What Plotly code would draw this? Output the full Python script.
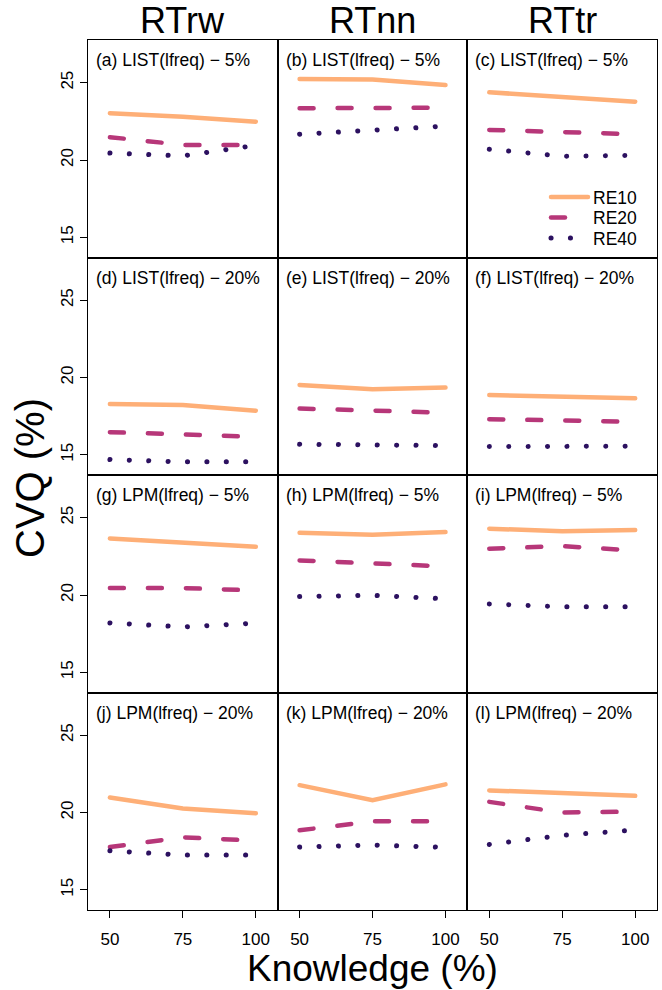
import plotly.graph_objects as go
from plotly.subplots import make_subplots

knowledge = [50, 75, 100]
col_titles = ["RTrw", "RTnn", "RTtr"]
panel_labels = [
    "(a) LIST(lfreq) − 5%", "(b) LIST(lfreq) − 5%", "(c) LIST(lfreq) − 5%",
    "(d) LIST(lfreq) − 20%", "(e) LIST(lfreq) − 20%", "(f) LIST(lfreq) − 20%",
    "(g) LPM(lfreq) − 5%", "(h) LPM(lfreq) − 5%", "(i) LPM(lfreq) − 5%",
    "(j) LPM(lfreq) − 20%", "(k) LPM(lfreq) − 20%", "(l) LPM(lfreq) − 20%",
]
series_names = ["RE10", "RE20", "RE40"]

re10 = [
    [23.03, 22.80, 22.48], [25.24, 25.20, 24.85], [24.38, 24.08, 23.77],
    [18.29, 18.22, 17.86], [19.52, 19.24, 19.35], [18.87, 18.77, 18.66],
    [23.66, 23.40, 23.12], [24.03, 23.90, 24.07], [24.29, 24.12, 24.20],
    [20.97, 20.26, 19.95], [21.77, 20.80, 21.82], [21.43, 21.27, 21.08],
]
re20 = [
    [21.48, 20.98, 20.98], [23.35, 23.35, 23.38], [21.95, 21.80, 21.67],
    [16.47, 16.30, 16.17], [18.00, 17.83, 17.73], [17.31, 17.20, 17.14],
    [20.45, 20.45, 20.30], [22.24, 22.02, 21.85], [23.00, 23.16, 22.88],
    [17.77, 18.40, 18.18], [18.85, 19.43, 19.43], [20.69, 20.00, 20.06],
]
re40 = [
    [20.45, 20.27, 20.95], [21.67, 21.93, 22.19], [20.70, 20.25, 20.30],
    [14.70, 14.55, 14.55], [15.69, 15.62, 15.60], [15.54, 15.54, 15.56],
    [18.20, 17.94, 18.18], [19.90, 19.98, 19.76], [19.42, 19.24, 19.24],
    [17.53, 17.25, 17.25], [17.77, 17.90, 17.75], [17.94, 18.53, 18.87],
]
x_ticks = [50, 75, 100]
y_ticks = [15, 20, 25]

colors = ["#FEAF77", "#B73779", "#2C1160"]
dashes = ["solid", "14px,24px", "0.1px,19.3px"]
widths = [4.5, 4.5, 5]
legend_ids = ["legend", "legend2", "legend3"]
legend_y_px = [197, 217.5, 238]

W, H = 662, 990
left_px, col_w = 88.0, 189.7
top_px, row_h = 40.0, 217.5

fig = make_subplots(rows=4, cols=3, horizontal_spacing=0, vertical_spacing=0)
FONT = "Liberation Sans, Arial, sans-serif"
FS = 17.5

for i in range(12):
    r, c = i // 3 + 1, i % 3 + 1
    data = [re10[i], re20[i], re40[i]]
    for k in range(3):
        fig.add_trace(go.Scatter(
            x=knowledge, y=data[k], mode="lines", name=series_names[k],
            line=dict(color=colors[k], width=widths[k], dash=dashes[k]),
            showlegend=(i == 2), legendgroup=series_names[k], legend=legend_ids[k],
        ), row=r, col=c)
    x0 = (left_px + (c - 1) * col_w) / W
    x1 = (left_px + c * col_w) / W
    y1 = 1 - (top_px + (r - 1) * row_h) / H
    y0 = 1 - (top_px + r * row_h) / H
    fig.update_xaxes(
        domain=[x0, x1], range=[42.5, 107.5], tickvals=x_ticks,
        showticklabels=(r == 4), ticks=("outside" if r == 4 else ""),
        ticklen=7, tickcolor="#000", showline=True, linecolor="#000",
        linewidth=1, mirror=True, showgrid=False, zeroline=False,
        tickfont=dict(family=FONT, size=17, color="#000"),
        ticklabelstandoff=7, row=r, col=c)
    fig.update_yaxes(
        domain=[y0, y1], range=[13.7, 27.76], tickvals=y_ticks,
        showticklabels=(c == 1), ticks=("outside" if c == 1 else ""),
        ticklen=7, tickcolor="#000", showline=True, linecolor="#000",
        linewidth=1, mirror=True, showgrid=False, zeroline=False,
        tickangle=-90, tickfont=dict(family=FONT, size=17, color="#000"),
        row=r, col=c)
    fig.add_annotation(
        x=x0 + 6 / W, y=y1 - 20 / H, xref="paper", yref="paper",
        text=panel_labels[i], showarrow=False, xanchor="left", yanchor="middle",
        font=dict(family=FONT, size=FS, color="#000"))

for c in range(3):
    fig.add_annotation(
        x=(left_px + (c + 0.5) * col_w) / W, y=1 - 20 / H, xref="paper", yref="paper",
        text=col_titles[c], showarrow=False, xanchor="center", yanchor="middle",
        font=dict(family=FONT, size=36, color="#000"))

fig.add_annotation(x=(left_px + 1.5 * col_w) / W, y=1 - 968 / H, xref="paper", yref="paper",
                   text="Knowledge (%)", showarrow=False, xanchor="center", yanchor="middle",
                   font=dict(family=FONT, size=37, color="#000"))
fig.add_annotation(x=30 / W, y=1 - 478 / H, xref="paper", yref="paper",
                   text="CVQ (%)", showarrow=False, textangle=-90,
                   xanchor="center", yanchor="middle",
                   font=dict(family=FONT, size=40, color="#000"))

legend_common = dict(xanchor="left", yanchor="middle", bgcolor="rgba(0,0,0,0)",
                     font=dict(family=FONT, size=FS, color="#000"), itemwidth=37,
                     borderwidth=0)
layout_legends = {}
for k, lid in enumerate(legend_ids):
    layout_legends[lid] = dict(x=546 / W, y=1 - legend_y_px[k] / H, **legend_common)

fig.update_layout(
    width=W, height=H, margin=dict(l=0, r=0, t=0, b=0),
    paper_bgcolor="white", plot_bgcolor="white",
    **layout_legends,
)

post = """
document.body.style.margin='0px';
document.body.style.overflow='hidden';
document.querySelectorAll('path.js-line').forEach(function(p){
  p.style.strokeLinecap='round';
});
"""
fig.write_html("out.html", post_script=post, config={"displayModeBar": False})
